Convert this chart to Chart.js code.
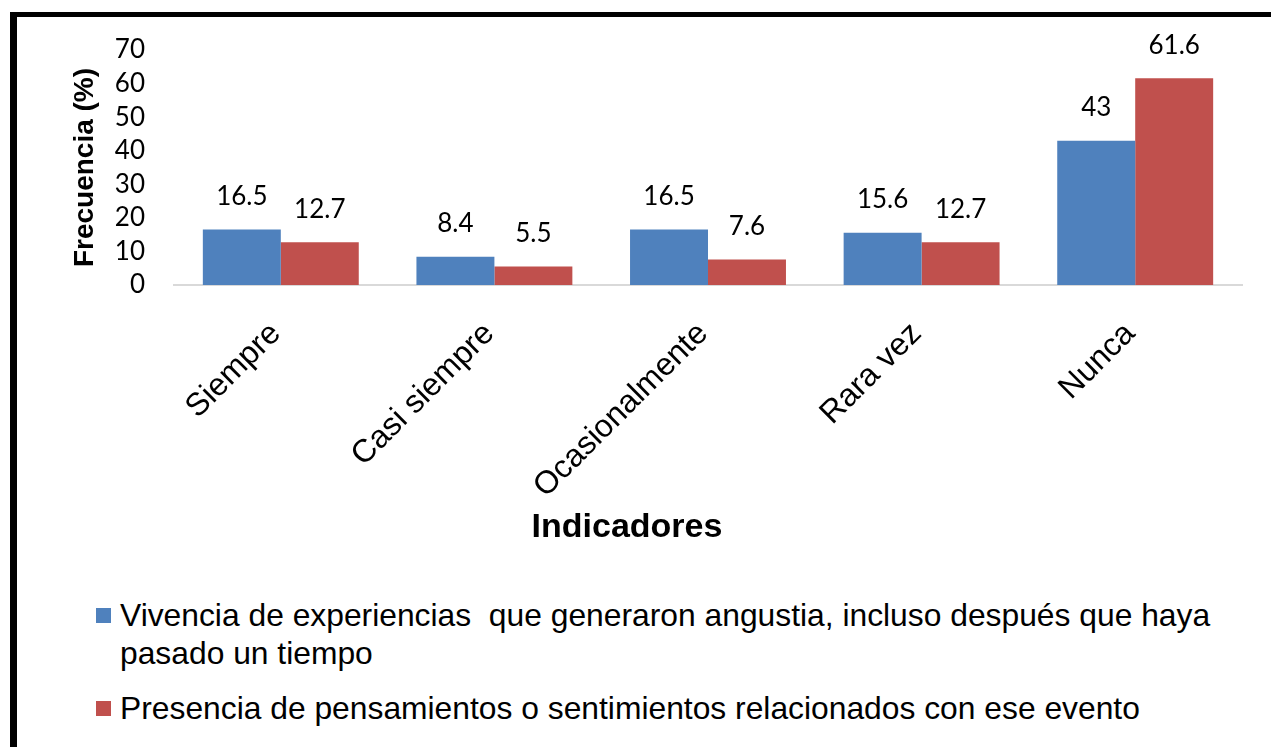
<!DOCTYPE html>
<html>
<head>
<meta charset="utf-8">
<script src="https://cdn.jsdelivr.net/npm/chart.js@4.4.1/dist/chart.umd.min.js"></script>
<style>
  body { margin: 0; background: #fff; }
  .frame {
    position: absolute; left: 10px; top: 12px; width: 1300px; height: 800px;
    border-top: 5px solid #000; border-left: 7px solid #000;
  }
  .chart-box { position: absolute; left: 0; top: 0; width: 1271px; height: 580px; }
  .legend { position: absolute; left: 96px; top: 596px; font-family: "Liberation Sans", Arial, sans-serif; font-size: 31.8px; color: #000; }
  .legend-item { position: relative; padding-left: 24px; width: 1120px; line-height: 38px; margin-bottom: 17px; white-space: pre-wrap; }
  .legend-item span { position: absolute; left: 0; top: 12px; width: 15px; height: 15px; }
</style>
</head>
<body>
<div class="frame"></div>
<div class="chart-box"><canvas id="chart"></canvas></div>
<div class="legend"></div>
<script>
// datos del grafico
const categorias = ['Siempre', 'Casi siempre', 'Ocasionalmente', 'Rara vez', 'Nunca'];
const vivencia = [16.5, 8.4, 16.5, 15.6, 43];
const presencia = [12.7, 5.5, 7.6, 12.7, 61.6];
const ticksY = [0, 10, 20, 30, 40, 50, 60, 70];

const nombreSerie1 = 'Vivencia de experiencias  que generaron angustia, incluso después que haya pasado un tiempo';
const nombreSerie2 = 'Presencia de pensamientos o sentimientos relacionados con ese evento';
const tituloX = 'Indicadores';

// dibuja los valores encima de cada barra y el titulo del eje x
const valueLabels = {
    id: 'valueLabels',
    afterDatasetsDraw(chart) {
        const ctx = chart.ctx;
        ctx.save();
        ctx.font = '26px Lato, "Open Sans", sans-serif';
        ctx.fillStyle = '#000';
        ctx.textAlign = 'center';
        ctx.textBaseline = 'middle';
        chart.data.datasets.forEach((ds, i) => {
            chart.getDatasetMeta(i).data.forEach((bar, j) => {
                ctx.fillText(String(ds.data[j]), bar.x, bar.y - 33);
            });
        });
        // el titulo del eje x no esta centrado en el area del grafico
        ctx.font = 'bold 34px "Liberation Sans", Arial, sans-serif';
        ctx.fillText(tituloX, 627, 528);
        ctx.restore();
    }
};

const chart = new Chart(document.getElementById('chart'), {
    type: 'bar',
    data: {
        labels: categorias,
        datasets: [{
            label: nombreSerie1,
            data: vivencia,
            backgroundColor: '#4F81BD'
        }, {
            label: nombreSerie2,
            data: presencia,
            backgroundColor: '#C0504D'
        }]
    },
    options: {
        responsive: true,
        maintainAspectRatio: false,
        animation: false,
        layout: { padding: { top: 50, right: 29, left: 60, bottom: 0 } },
        datasets: { bar: { categoryPercentage: 0.73, barPercentage: 1.0 } },
        plugins: { legend: { display: false }, tooltip: { enabled: false } },
        scales: {
            x: {
                grid: { display: false },
                border: { display: true, color: '#d9d9d9', width: 2 },
                ticks: {
                    autoSkip: false, minRotation: 45, maxRotation: 45, padding: 22, labelOffset: -5,
                    color: '#000', font: { family: '"Liberation Sans", Arial, sans-serif', size: 32 }
                },
                afterFit(scale) { scale.height = 295; }
            },
            y: {
                min: 0, max: 70,
                afterBuildTicks(scale) { scale.ticks = ticksY.map(v => ({ value: v })); },
                grid: { display: false, drawTicks: false },
                border: { display: false },
                ticks: {
                    autoSkip: false, padding: 29, color: '#000',
                    font: { family: 'Lato, "Open Sans", sans-serif', size: 26 }
                },
                title: {
                    display: true, text: 'Frecuencia (%)', color: '#000',
                    padding: { top: 8, bottom: 0 },
                    font: { family: '"Liberation Sans", Arial, sans-serif', size: 28, weight: 'bold' }
                },
                afterFit(scale) { scale.width = 114; }
            }
        }
    },
    plugins: [valueLabels]
});

// leyenda en html para que el texto largo pueda partirse en dos lineas
const legend = document.querySelector('.legend');
chart.data.datasets.forEach(ds => {
    legend.innerHTML += `<div class="legend-item"><span style="background:${ds.backgroundColor}"></span>${ds.label}</div>`;
});
</script>
</body>
</html>
